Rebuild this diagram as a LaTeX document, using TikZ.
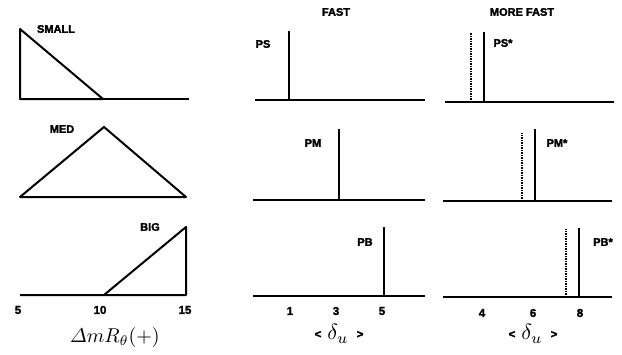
\documentclass[tikz,border=0pt]{standalone}
\usepackage{amsmath}
\usepackage{graphicx}
\usepackage{fontspec}
\usepackage{tikz}
\newfontfamily\lblfont[FakeBold=2]{Liberation Sans Bold}
\newcommand{\deltalabel}{{\lblfont\fontsize{11.5}{12}\selectfont <}\hspace{6pt}\raisebox{-2pt}{\scalebox{2.2}{$\delta_u$}}\hspace{8pt}{\lblfont\fontsize{11.5}{12}\selectfont >}}

\begin{document}
\begin{tikzpicture}[x=1pt,y=-1pt,line width=2pt]
\tikzset{lbl/.style={font=\lblfont\fontsize{11}{12}\selectfont,inner sep=0pt},
  tick/.style={font=\lblfont\fontsize{11.5}{12}\selectfont,inner sep=0pt},
  shifted/.style={line width=1.6pt,dash pattern=on 1.2pt off 1.3pt}}
\useasboundingbox (0,0) rectangle (622,354);
% membership functions of the error
\draw[line join=round] (20,29) -- (20,99) -- (103,99) -- cycle;
\draw (103,99) -- (189,99);
\draw[line join=round] (20,197) -- (104,127) -- (186,197) -- cycle;
\draw[line join=round] (20,295) -- (104,295) -- (186,227) -- (186,295) -- (104,295);
\node[lbl] (small) at (56,29) {SMALL};
\node[lbl] (med) at (62,129) {MED};
\node[lbl] (big) at (150,227) {BIG};
\foreach \v/\x in {5/18,10/100,15/185} \node[tick] (tl\v) at (\x,310) {\v};
\node (err) at (115,337) {\scalebox{2}{$\varDelta m R_\theta(+)$}};
% fast singletons
\node[lbl] (fast) at (336,12) {FAST};
\draw (255,100) -- (425,100);
\draw (289,100) -- (289,31);
\draw (253,200) -- (425,200);
\draw (339,200) -- (339,129);
\draw (253,296) -- (425,296);
\draw (384,296) -- (384,227);
\node[lbl] (ps) at (263,44) {PS};
\node[lbl] (pm) at (313,143) {PM};
\node[lbl] (pb) at (365,242) {PB};
\foreach \v/\x in {1/290,3/336,5/382} \node[tick] (tm\v) at (\x,311) {\v};
\node (dm) at (339,334) {\deltalabel};
% more fast singletons
\node[lbl] (mfast) at (522,12) {MORE FAST};
\draw (445,102) -- (614,102);
\draw[shifted] (471,102) -- (471,33);
\draw (484,102) -- (484,32);
\draw (443,201) -- (612,201);
\draw[shifted] (522,201) -- (522,133);
\draw (535,201) -- (535,129);
\draw (443,297) -- (612,297);
\draw[shifted] (566,297) -- (566,229);
\draw (579,297) -- (579,228);
\node[lbl] (pss) at (503,43) {PS*};
\node[lbl] (pms) at (557,143) {PM*};
\node[lbl] (pbs) at (603,242) {PB*};
\foreach \v/\x in {4/482,6/533,8/580} \node[tick] (tr\v) at (\x,313) {\v};
\node (dr) at (533,334) {\deltalabel};
\end{tikzpicture}
\end{document}
